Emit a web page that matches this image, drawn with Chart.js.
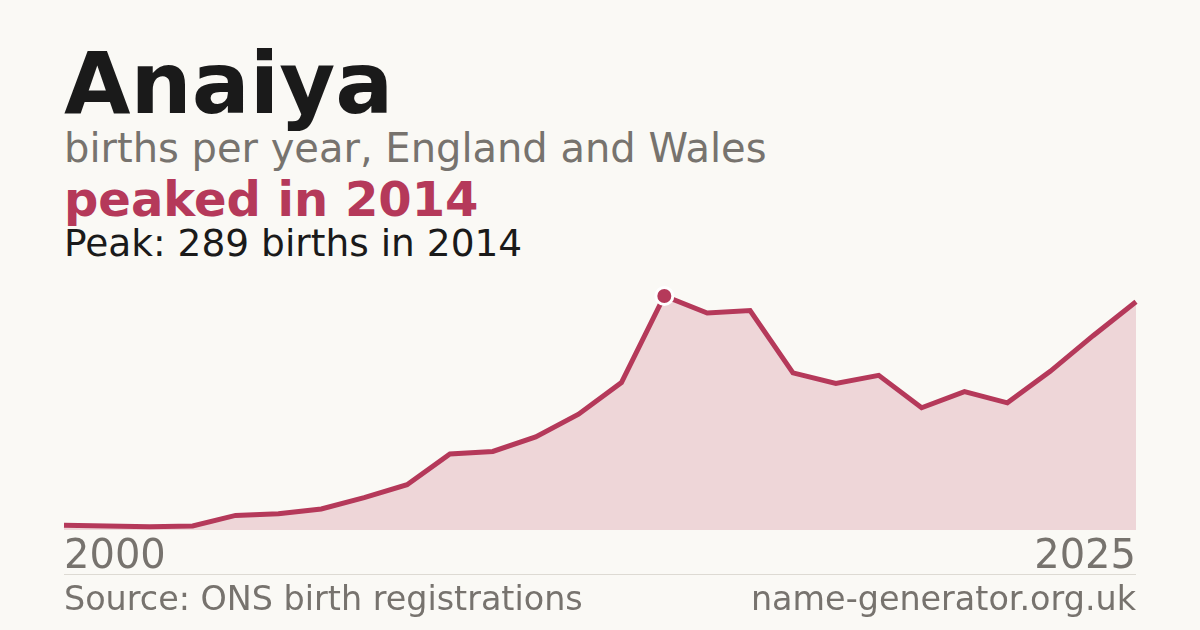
<!DOCTYPE html>
<html>
<head>
<meta charset="utf-8">
<script src="https://cdn.jsdelivr.net/npm/chart.js@4.4.1/dist/chart.umd.min.js"></script>
<style>
  html, body { margin: 0; padding: 0; }
  body { width: 1200px; height: 630px; background: #faf9f5; position: relative; overflow: hidden;
         font-family: "DejaVu Sans", sans-serif; }
  .txt { position: absolute; left: 64px; line-height: 1; white-space: nowrap; }
  #title { top: 40px; font-size: 86px; font-weight: bold; color: #1a1a1a; }
  #sub { top: 128px; font-size: 40px; color: #77736e; }
  #hook { top: 175px; font-size: 48px; font-weight: bold; color: #b5395a; }
  #peak { top: 225px; font-size: 37.5px; color: #1a1a1a; }
  #rule { position: absolute; left: 64px; width: 1072px; top: 574px; height: 1px; background: #dddad3; }
  .foot { position: absolute; top: 582px; font-size: 33.4px; line-height: 1; color: #77736e; white-space: nowrap; }
  #src { left: 64px; }
  #site { right: 64px; }
  #chartBox { position: absolute; left: 0; top: 280px; width: 1200px; height: 306px; }
</style>
</head>
<body>
<div id="title" class="txt">Anaiya</div>
<div id="sub" class="txt">births per year, England and Wales</div>
<div id="hook" class="txt">peaked in 2014</div>
<div id="peak" class="txt">Peak: 289 births in 2014</div>
<div id="chartBox"><canvas id="chart"></canvas></div>
<div id="rule"></div>
<div id="src" class="foot">Source: ONS birth registrations</div>
<div id="site" class="foot">name-generator.org.uk</div>

<script>
// data
const years = [2000, 2001, 2002, 2003, 2004, 2005, 2006, 2007, 2008, 2009, 2010, 2011, 2012,
               2013, 2014, 2015, 2016, 2017, 2018, 2019, 2020, 2021, 2022, 2023, 2024, 2025];
const births = [6, 5, 4, 5, 18, 20, 26, 40, 56, 94, 97, 115, 143,
                182, 289, 268, 271, 194, 181, 191, 151, 171, 157, 196, 240, 282];
const tickYears = [2000, 2025];

const lineColor = '#b5395a';
const peakIdx = births.indexOf(Math.max(...births));

new Chart(document.getElementById('chart'), {
  type: 'line',
  data: {
    labels: years,
    datasets: [{
      data: births,
      borderColor: lineColor,
      borderWidth: 5,
      backgroundColor: 'rgba(181,57,90,0.18)',
      fill: 'origin',
      tension: 0,
      clip: false,
      pointRadius: ctx => ctx.dataIndex === peakIdx ? 8.5 : 0,
      pointHoverRadius: ctx => ctx.dataIndex === peakIdx ? 8.5 : 0,
      pointBackgroundColor: lineColor,
      pointBorderColor: '#ffffff',
      pointBorderWidth: 3
    }]
  },
  options: {
    responsive: true,
    maintainAspectRatio: false,
    animation: false,
    layout: { padding: { top: 16, left: 64, right: 64, bottom: 0 } },
    plugins: { legend: { display: false }, tooltip: { enabled: false } },
    scales: {
      x: {
        grid: { display: false, drawTicks: false },
        border: { display: false },
        ticks: {
          autoSkip: false,
          maxRotation: 0,
          align: 'inner',
          padding: 4,
          color: '#77736e',
          font: { family: 'DejaVu Sans', size: 40 },
          callback: (v, i) => tickYears.includes(years[i]) ? String(years[i]) : ''
        }
      },
      y: { display: false, min: 0, max: 289 }
    }
  }
});
</script>
</body>
</html>
